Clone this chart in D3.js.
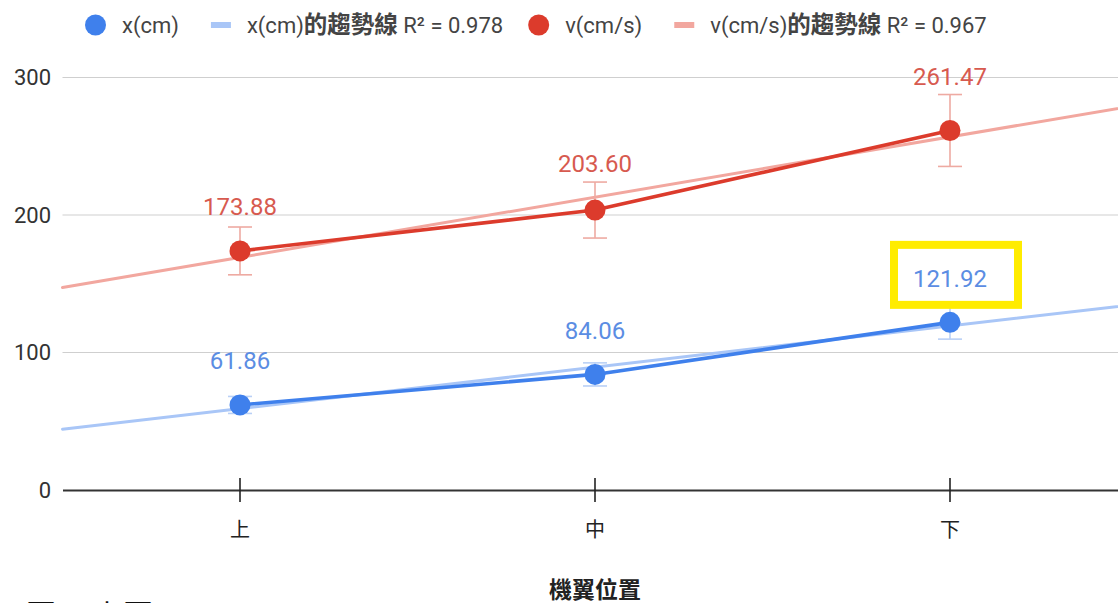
<!DOCTYPE html>
<html>
<head>
<meta charset="utf-8">
<script src="https://cdn.jsdelivr.net/npm/d3@7/dist/d3.min.js"></script>
<style>
  html, body { margin: 0; padding: 0; background: #fff; overflow: hidden; }
  svg { display: block; font-family: Roboto, "Noto Sans CJK TC", sans-serif; }
</style>
</head>
<body>
<svg id="chart" width="1118" height="603"></svg>
<script>
// Categories along the x axis (wing position)
const categories = ["上", "中", "下"];
// Measured series
const xValues = [61.86, 84.06, 121.92];      // x (cm)
const vValues = [173.88, 203.60, 261.47];    // v (cm/s)
// Error bars are a percentage of each value
const errorPercent = 0.10;
const yTicks = [0, 100, 200, 300];
const seriesNames = ["x(cm)", "v(cm/s)"];
const trendSuffix = "的趨勢線";
const highlightIndex = 2; // label of x at 下 is boxed

const width = 1118, height = 603;
const margin = { left: 62.5, right: -9.5, top: 0, bottom: 0 };

const svg = d3.select("#chart");

const xScale = d3.scaleBand()
  .domain(categories)
  .range([margin.left, width - margin.right])
  .paddingInner(0).paddingOuter(0);

const yScale = d3.scaleLinear().domain([0, 300]).range([490, 77.5]);

const cx = c => xScale(c) + xScale.bandwidth() / 2;

// Linear fit over category index
function linFit(vals) {
  const xs = vals.map((_, i) => i);
  const mx = d3.mean(xs), my = d3.mean(vals);
  let sxy = 0, sxx = 0;
  xs.forEach((x, i) => { sxy += (x - mx) * (vals[i] - my); sxx += (x - mx) ** 2; });
  const slope = sxy / sxx;
  const intercept = my - slope * mx;
  const pred = xs.map(x => intercept + slope * x);
  const ssRes = d3.sum(vals, (v, i) => (v - pred[i]) ** 2);
  const ssTot = d3.sum(vals, v => (v - my) ** 2);
  return { slope, intercept, r2: 1 - ssRes / ssTot };
}

const series = [
  { name: seriesNames[0], values: xValues, color: "#3f80ec", trend: "#a9c6f7", err: "#b9d0f6", label: "#5b8de3" },
  { name: seriesNames[1], values: vValues, color: "#dc3b2c", trend: "#f2a79f", err: "#eeaaa2", label: "#d75a4f" }
];
series.forEach(s => s.fit = linFit(s.values));

// Index position -> pixel (for continuous trend lines)
const step = xScale.bandwidth();
const idxToPx = i => cx(categories[0]) + i * step;

// Gridlines
svg.append("g").selectAll("line")
  .data(yTicks.filter(t => t !== 0))
  .join("line")
  .attr("x1", margin.left).attr("x2", width)
  .attr("y1", d => yScale(d)).attr("y2", d => yScale(d))
  .attr("stroke", "#cfcfcf").attr("stroke-width", 1.2);

// Y tick labels
svg.append("g").selectAll("text")
  .data(yTicks)
  .join("text")
  .attr("x", 51).attr("y", d => yScale(d))
  .attr("dy", "0.35em")
  .attr("text-anchor", "end")
  .attr("font-size", 22).attr("fill", "#333")
  .text(d => d);

// X axis
const xAxis = d3.axisBottom(xScale).tickSize(0).tickPadding(0);
const gx = svg.append("g").attr("transform", `translate(0,${yScale(0)})`).call(xAxis);
gx.select(".domain").attr("stroke", "#333").attr("stroke-width", 2);
gx.selectAll(".tick text").remove();
gx.selectAll(".tick").append("line")
  .attr("y1", -12).attr("y2", 12).attr("stroke", "#222").attr("stroke-width", 1.6);
gx.selectAll(".tick").append("text")
  .attr("y", 47).attr("fill", "#222").attr("font-size", 20)
  .attr("text-anchor", "middle")
  .attr("font-family", "'Noto Sans CJK TC', sans-serif")
  .text(d => d);

// Axis title
svg.append("text")
  .attr("x", cx(categories[1])).attr("y", 598)
  .attr("text-anchor", "middle")
  .attr("font-size", 23).attr("font-weight", "bold").attr("fill", "#222")
  .attr("font-family", "'Noto Sans CJK TC', sans-serif")
  .text("機翼位置");

// Trend lines (spanning the whole plot width)
series.forEach(s => {
  const i0 = -0.5, i1 = 2.6;
  svg.append("line")
    .attr("x1", idxToPx(i0)).attr("y1", yScale(s.fit.intercept + s.fit.slope * i0))
    .attr("x2", idxToPx(i1)).attr("y2", yScale(s.fit.intercept + s.fit.slope * i1))
    .attr("stroke", s.trend).attr("stroke-width", 3).attr("stroke-linecap", "round");
});

// Series lines
const line = d3.line().x((d, i) => cx(categories[i])).y(d => yScale(d));
series.forEach(s => {
  svg.append("path").datum(s.values)
    .attr("d", line).attr("fill", "none")
    .attr("stroke", s.color).attr("stroke-width", 3.6);
});

// Error bars
series.forEach(s => {
  const g = svg.append("g").attr("stroke", s.err).attr("stroke-width", 1.6);
  s.values.forEach((v, i) => {
    const x = cx(categories[i]);
    const hi = yScale(v * (1 + errorPercent)), lo = yScale(v * (1 - errorPercent));
    g.append("line").attr("x1", x).attr("x2", x).attr("y1", hi).attr("y2", lo);
    g.append("line").attr("x1", x - 12).attr("x2", x + 12).attr("y1", hi).attr("y2", hi);
    g.append("line").attr("x1", x - 12).attr("x2", x + 12).attr("y1", lo).attr("y2", lo);
  });
});

// Points
const r = 10.5;
series.forEach(s => {
  svg.append("g").selectAll("circle")
    .data(s.values).join("circle")
    .attr("cx", (d, i) => cx(categories[i]))
    .attr("cy", d => yScale(d))
    .attr("r", r).attr("fill", s.color);
});

// Value labels, placed above the point and its error bar
const labelLayer = svg.append("g");
series.forEach((s, si) => {
  s.values.forEach((v, i) => {
    const x = cx(categories[i]);
    const base = Math.min(yScale(v) - r - 25, yScale(v * (1 + errorPercent)) - 10);
    labelLayer.append("text")
      .attr("x", x).attr("y", base)
      .attr("text-anchor", "middle")
      .attr("font-size", 24).attr("fill", s.label)
      .text(v.toFixed(2));
    if (si === 0 && i === highlightIndex) {
      labelLayer.append("rect")
        .attr("x", x - 56).attr("y", base - 42)
        .attr("width", 124).attr("height", 60)
        .attr("fill", "none").attr("stroke", "#ffec00").attr("stroke-width", 8);
    }
  });
});

// Legend: laid out left to right from measured text widths
const legend = svg.append("g").attr("font-size", 22).attr("fill", "#444");
const legendY = 25;
let lx = 85;
function legendText(x, parts) {
  const t = legend.append("text").attr("x", x).attr("y", legendY).attr("dy", "0.35em");
  parts.forEach(p => {
    const ts = t.append("tspan").text(p.text);
    if (p.cjk) ts.attr("font-size", 23.5).attr("font-weight", "bold")
      .attr("font-family", "'Noto Sans CJK TC', sans-serif");
  });
  return t.node().getComputedTextLength();
}
series.forEach(s => {
  // point swatch
  legend.append("circle").attr("cx", lx + 10.5).attr("cy", legendY).attr("r", 10.5).attr("fill", s.color);
  lx += 37;
  lx += legendText(lx, [{ text: s.name }]) + 32;
  // trend swatch
  legend.append("line").attr("x1", lx).attr("x2", lx + 20)
    .attr("y1", legendY).attr("y2", legendY).attr("stroke", s.trend).attr("stroke-width", 6);
  lx += 36;
  lx += legendText(lx, [
    { text: s.name },
    { text: trendSuffix, cjk: true },
    { text: ` R² = ${s.fit.r2.toFixed(3)}` }
  ]) + 25;
});

// Figure caption (runs past the bottom edge)
const caption = svg.append("text")
  .attr("y", 626)
  .attr("font-size", 30).attr("fill", "#111")
  .attr("font-family", "'Noto Sans CJK TC', serif");
caption.append("tspan").attr("x", 26).text("圖");
caption.append("tspan").attr("x", 76).text("1");
caption.append("tspan").attr("x", 93).text("上圖");
</script>
</body>
</html>
